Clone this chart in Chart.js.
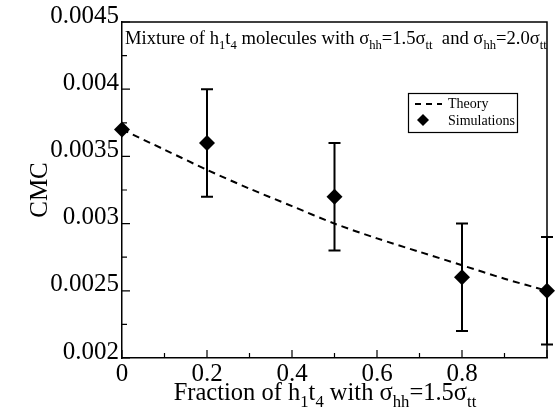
<!DOCTYPE html>
<html>
<head>
<meta charset="utf-8">
<script src="https://cdn.jsdelivr.net/npm/chart.js@4.4.1/dist/chart.umd.min.js"></script>
<style>
html,body{margin:0;padding:0;background:#fff;}
#wrap{width:555px;height:414px;position:relative;}
</style>
</head>
<body>
<div id="wrap"><canvas id="c" width="555" height="414"></canvas></div>
<script>
// ---- data ----
const simX = [0, 0.2, 0.5, 0.8, 1.0];
const simCMC = [0.0037, 0.0036, 0.0032, 0.0026, 0.0025];
const errLow = [null, 0.0032, 0.0028, 0.0022, 0.0021];
const errHigh = [null, 0.0040, 0.0036, 0.0030, 0.0029];
const theoryX = [0, 0.1, 0.2, 0.3, 0.4, 0.5, 0.6, 0.7, 0.8, 0.9, 1.0];
const theoryCMC = [0.0037, 0.00355, 0.0034, 0.00326, 0.00313, 0.0030, 0.00289, 0.00279, 0.00269, 0.00259, 0.0025];
const yTickValues = [0.002, 0.0025, 0.003, 0.0035, 0.004, 0.0045];
const yTickLabels = ['0.002', '0.0025', '0.003', '0.0035', '0.004', '0.0045'];
const xTickValues = [0, 0.2, 0.4, 0.6, 0.8, 1.0];
const xTickLabels = ['0', '0.2', '0.4', '0.6', '0.8', ''];

const SERIF = '"Liberation Serif", "Times New Roman", serif';

function drawRich(ctx, segs, x, y, size, align) {
  const sub = size * 0.68;
  let w = 0;
  segs.forEach(s => {
    ctx.font = (s[1] === 's' ? sub : size) + 'px ' + SERIF;
    w += ctx.measureText(s[0]).width;
  });
  let cx = align === 'center' ? x - w / 2 : x;
  ctx.textBaseline = 'alphabetic';
  ctx.textAlign = 'left';
  segs.forEach(s => {
    const isSub = s[1] === 's';
    ctx.font = (isSub ? sub : size) + 'px ' + SERIF;
    ctx.fillText(s[0], cx, isSub ? y + size * 0.28 : y);
    cx += ctx.measureText(s[0]).width;
  });
}

const decor = {
  id: 'decor',
  beforeDatasetsDraw(chart) {
    const ctx = chart.ctx, xs = chart.scales.x, ys = chart.scales.y;
    ctx.save();
    ctx.strokeStyle = '#000';
    ctx.lineWidth = 2;
    for (let i = 0; i < simX.length; i++) {
      if (errLow[i] === null) continue;
      const px = xs.getPixelForValue(simX[i]);
      const y1 = ys.getPixelForValue(errLow[i]);
      const y2 = ys.getPixelForValue(errHigh[i]);
      ctx.beginPath();
      ctx.moveTo(px, y1); ctx.lineTo(px, y2);
      ctx.moveTo(px - 6, y1); ctx.lineTo(px + 6, y1);
      ctx.moveTo(px - 6, y2); ctx.lineTo(px + 6, y2);
      ctx.stroke();
    }
    ctx.restore();
  },
  afterDraw(chart) {
    const ctx = chart.ctx, ca = chart.chartArea, xs = chart.scales.x, ys = chart.scales.y;
    ctx.save();
    ctx.strokeStyle = '#000';
    ctx.fillStyle = '#000';
    // frame
    ctx.lineWidth = 1.5;
    ctx.beginPath();
    ctx.moveTo(ca.left, ca.top); ctx.lineTo(ca.right, ca.top); ctx.lineTo(ca.right, ca.bottom);
    ctx.stroke();
    // inward ticks
    ctx.lineWidth = 1.2;
    ctx.beginPath();
    for (let v = 0; v <= 10; v++) {
      const px = xs.getPixelForValue(v / 10);
      const len = v % 2 === 0 ? 8 : 5;
      ctx.moveTo(px, ca.bottom); ctx.lineTo(px, ca.bottom - len);
    }
    for (let v = 0; v <= 10; v++) {
      const py = ys.getPixelForValue(0.002 + v * 0.00025);
      const len = v % 2 === 0 ? 8 : 5;
      ctx.moveTo(ca.left, py); ctx.lineTo(ca.left + len, py);
    }
    ctx.stroke();
    // annotation
    drawRich(ctx, [['Mixture of h','n'],['1','s'],['t','n'],['4','s'],[' molecules with \u03c3','n'],['hh','s'],
      ['=1.5\u03c3','n'],['tt','s'],['  and \u03c3','n'],['hh','s'],['=2.0\u03c3','n'],['tt','s']],
      ca.left + 3, 44, 18.6, 'left');
    // legend
    ctx.lineWidth = 1.2;
    ctx.strokeRect(408.5, 93.5, 109, 39);
    ctx.lineWidth = 1.8;
    ctx.setLineDash([6, 5]);
    ctx.beginPath(); ctx.moveTo(415, 104); ctx.lineTo(442, 104); ctx.stroke();
    ctx.setLineDash([]);
    ctx.beginPath();
    ctx.moveTo(423, 114); ctx.lineTo(429, 120); ctx.lineTo(423, 126); ctx.lineTo(417, 120); ctx.closePath();
    ctx.fill();
    ctx.font = '14px ' + SERIF;
    ctx.textBaseline = 'alphabetic';
    ctx.textAlign = 'left';
    ctx.fillText('Theory', 448, 108);
    ctx.fillText('Simulations', 448, 125);
    // x title
    drawRich(ctx, [['Fraction of h','n'],['1','s'],['t','n'],['4','s'],[' with \u03c3','n'],['hh','s'],['=1.5\u03c3','n'],['tt','s']],
      (ca.left + 528) / 2, 400, 24.5, 'center');
    // y title
    ctx.translate(40, 190);
    ctx.rotate(-Math.PI / 2);
    ctx.font = '25px ' + SERIF;
    ctx.textAlign = 'center';
    ctx.textBaseline = 'middle';
    ctx.fillText('CMC', 0, 0);
    ctx.restore();
  }
};

new Chart(document.getElementById('c'), {
  type: 'scatter',
  data: {
    datasets: [
      {
        label: 'Theory',
        data: theoryX.map((x, i) => ({ x: x, y: theoryCMC[i] })),
        showLine: true,
        borderColor: '#000',
        borderWidth: 2,
        borderDash: [7, 5],
        pointRadius: 0,
        tension: 0.3,
        fill: false
      },
      {
        label: 'Simulations',
        data: simX.map((x, i) => ({ x: x, y: simCMC[i] })),
        showLine: false,
        pointStyle: 'rectRot',
        pointRadius: 8,
        pointBackgroundColor: '#000',
        pointBorderColor: '#000',
        pointBorderWidth: 0,
        clip: false
      }
    ]
  },
  options: {
    responsive: false,
    animation: false,
    events: [],
    layout: { padding: { top: 22, right: 1, left: 0, bottom: 0 } },
    plugins: { legend: { display: false }, tooltip: { enabled: false }, title: { display: false } },
    scales: {
      x: {
        type: 'linear', min: 0, max: 1,
        afterBuildTicks: s => { s.ticks = xTickValues.map(v => ({ value: v })); },
        afterFit: s => { s.height = 56; },
        grid: { display: false, drawTicks: false },
        border: { display: true, color: '#000', width: 1.5 },
        ticks: {
          padding: 1, color: '#000', maxRotation: 0, autoSkip: false,
          font: { family: SERIF, size: 25 },
          callback: (v, i) => xTickLabels[i]
        }
      },
      y: {
        type: 'linear', min: 0.002, max: 0.0045,
        afterBuildTicks: s => { s.ticks = yTickValues.map(v => ({ value: v })); },
        afterFit: s => { s.width = 122; },
        grid: { display: false, drawTicks: false },
        border: { display: true, color: '#000', width: 1.5 },
        ticks: {
          padding: 3, color: '#000', autoSkip: false, labelOffset: -6,
          font: { family: SERIF, size: 25 },
          callback: (v, i) => yTickLabels[i]
        }
      }
    }
  },
  plugins: [decor]
});
</script>
</body>
</html>
